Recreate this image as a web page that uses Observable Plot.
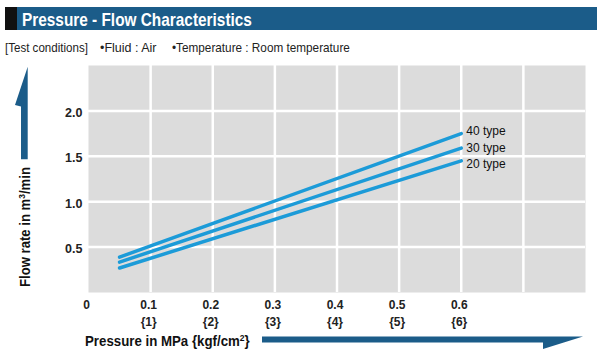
<!DOCTYPE html>
<html><head><meta charset="utf-8">
<script src="https://cdn.jsdelivr.net/npm/d3@7"></script>
<script src="https://cdn.jsdelivr.net/npm/@observablehq/plot@0.6"></script>
<style>
html,body{margin:0;padding:0;background:#fff;}
#chart{position:relative;width:597px;height:352px;overflow:hidden;}
</style></head><body><div id="chart"></div>
<script>
// ---- data ----
const pressure = [0.05, 0.6];
const seriesNames = ["40 type", "30 type", "20 type"];
const flow40 = [0.39, 1.75];
const flow30 = [0.335, 1.59];
const flow20 = [0.27, 1.45];
const xTicks = [0, 0.1, 0.2, 0.3, 0.4, 0.5, 0.6];
const xTickLabels = ["0", "0.1\n{1}", "0.2\n{2}", "0.3\n{3}", "0.4\n{4}", "0.5\n{5}", "0.6\n{6}"];
const xGrid = [0.1, 0.2, 0.3, 0.4, 0.5, 0.6, 0.7];
const yTicks = [0.5, 1.0, 1.5, 2.0];

const FONT = "'Liberation Sans',Arial,Helvetica,sans-serif";
const flows = [flow40, flow30, flow20];
const rows = [];
seriesNames.forEach((name, s) => pressure.forEach((p, i) => rows.push({type: name, x: p, y: flows[s][i]})));
const ends = seriesNames.map((name, s) => ({type: name, x: pressure[pressure.length - 1], y: flows[s][flows[s].length - 1]}));
const xLabelMap = new Map(xTicks.map((t, i) => [t, xTickLabels[i]]));
const labelDy = [-2, 0, 3];

const plot = Plot.plot({
  width: 597, height: 352,
  marginLeft: 88, marginRight: 12, marginTop: 65, marginBottom: 60,
  style: {fontFamily: FONT, background: "transparent", color: "#222"},
  x: {domain: [0, 0.8]},
  y: {domain: [0, 2.5]},
  marks: [
    Plot.frame({fill: "#dcdcdc", stroke: null}),
    Plot.gridX(xGrid, {stroke: "white", strokeOpacity: 1, strokeWidth: 2.5}),
    Plot.gridY(yTicks, {stroke: "white", strokeOpacity: 1, strokeWidth: 2.5}),
    Plot.line(rows, {x: "x", y: "y", z: "type", stroke: "#1c9bd8", strokeWidth: 3.5}),
    ...ends.map((e, i) => Plot.text([e], {x: "x", y: "y", text: "type", dx: 5, dy: labelDy[i], textAnchor: "start", fontSize: 12, fill: "#111"})),
    Plot.axisX(xTicks, {tickSize: 0, tickPadding: 5, dx: -2, tickFormat: d => xLabelMap.get(d), fontWeight: "bold", fontSize: 12, lineHeight: 1.4, label: null}),
    Plot.axisY(yTicks, {tickSize: 0, tickPadding: 6, dy: 2, tickFormat: d => d.toFixed(1), fontWeight: "bold", fontSize: 12.5, label: null})
  ]
});
document.getElementById("chart").appendChild(plot);

// ---- decorations ----
const svg = d3.select(plot);
const blue = "#1b5c89";
function fit(sel, x, y, width, rotate) {
  const w = sel.node().getComputedTextLength();
  const k = Math.min(1, width / w);
  sel.attr("transform", `translate(${x},${y})${rotate ? " rotate(-90)" : ""} scale(${k},1)`);
  return sel;
}
function addText(t, size, weight, fill) {
  return svg.append("text").attr("text-anchor", "start").attr("font-size", size).attr("font-weight", weight)
    .attr("font-family", FONT).attr("fill", fill).text(t);
}
svg.append("rect").attr("x", 17).attr("y", 7).attr("width", 580).attr("height", 23).attr("fill", blue);
svg.append("rect").attr("x", 5).attr("y", 7).attr("width", 12).attr("height", 23).attr("fill", "#111");
fit(addText("Pressure - Flow Characteristics", 18, "bold", "white"), 22, 25.5, 230);
fit(addText("[Test conditions]", 12.5, "normal", "#222"), 5, 52, 83);
fit(addText("•Fluid : Air", 12.5, "normal", "#222"), 100, 52, 57);
fit(addText("•Temperature : Room temperature", 12.5, "normal", "#222"), 172, 52, 178);

// y axis arrow + label
svg.append("path").attr("fill", blue).attr("d", "M27.7,66.7 L27.7,159.3 L21,159.3 L21,106.5 L15,105 Z");
const yl = svg.append("text").attr("text-anchor", "start").attr("font-size", 14).attr("font-weight", "bold")
  .attr("font-family", FONT).attr("fill", "#111");
yl.append("tspan").text("Flow rate in m");
yl.append("tspan").attr("font-size", 9).attr("dy", -5).text("3");
yl.append("tspan").attr("dy", 5).text("/min");
fit(yl, 30, 287, 120, true);

// x axis label + arrow
const xl = svg.append("text").attr("text-anchor", "start").attr("font-size", 14).attr("font-weight", "bold")
  .attr("font-family", FONT).attr("fill", "#111");
xl.append("tspan").text("Pressure in MPa {kgf/cm");
xl.append("tspan").attr("font-size", 9).attr("dy", -5).text("2");
xl.append("tspan").attr("dy", 5).text("}");
fit(xl, 85, 346, 165);
svg.append("path").attr("fill", blue).attr("d", "M262,336.5 L583,336.5 L543,349 L543,342.5 L262,342.5 Z");
</script></body></html>
